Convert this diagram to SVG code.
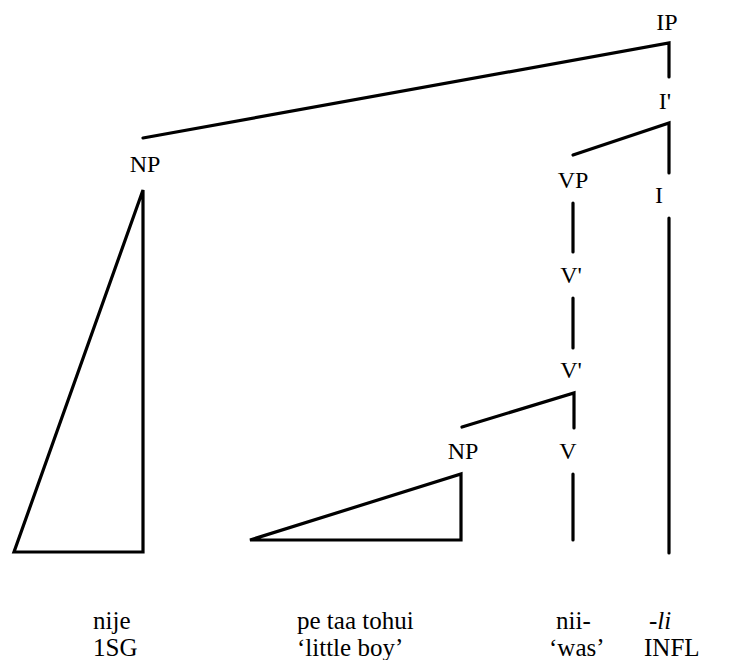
<svg xmlns="http://www.w3.org/2000/svg" width="732" height="660" viewBox="0 0 732 660">
<style>
text { font-family: "Liberation Serif", "Times New Roman", serif; font-size: 24px; fill: #000; }
.lbl { text-anchor: middle; }
.w { text-anchor: start; font-size: 25px; }
.it { font-style: italic; }
#edges polyline, #edges line, #edges polygon { fill: none; stroke: #000; stroke-width: 3.2; stroke-linejoin: miter; stroke-linecap: round; }
</style>
<rect width="732" height="660" fill="#fff"/>
<g id="edges">
  <polyline points="143,138 669,43 669,77"/>
  <polyline points="573,155 669,123 669,173"/>
  <line x1="669" y1="218" x2="669" y2="553"/>
  <line x1="573" y1="203" x2="573" y2="252"/>
  <line x1="573" y1="298" x2="573" y2="348"/>
  <polyline points="462,427 574,393 574,428"/>
  <line x1="573" y1="474" x2="573" y2="540"/>
  <polygon points="461,474 461,540 250,540"/>
  <polygon points="143,190 143,552 14,552"/>
</g>
<g id="IP"><text class="lbl" x="667" y="30">IP</text></g>
<g id="Ibar"><text class="lbl" x="665" y="109">I'</text></g>
<g id="NP1"><text class="lbl" x="145" y="172">NP</text></g>
<g id="VP"><text class="lbl" x="573" y="188">VP</text></g>
<g id="I"><text class="lbl" x="659" y="203">I</text></g>
<g id="Vbar1"><text class="lbl" x="571" y="283">V'</text></g>
<g id="Vbar2"><text class="lbl" x="571" y="378">V'</text></g>
<g id="NP2"><text class="lbl" x="463" y="459">NP</text></g>
<g id="V"><text class="lbl" x="568" y="459">V</text></g>
<g id="w1"><text class="w" x="93" y="629">nije</text><text class="w" x="93" y="656">1SG</text></g>
<g id="w2"><text class="w" x="297" y="629">pe taa tohui</text><text class="w" x="297" y="656">‘little boy’</text></g>
<g id="w3"><text class="w" x="556" y="629">nii-</text><text class="w" x="549" y="656">‘was’</text></g>
<g id="w4"><text class="w it" x="649" y="629">-li</text><text class="w" x="644" y="656">INFL</text></g>
</svg>
